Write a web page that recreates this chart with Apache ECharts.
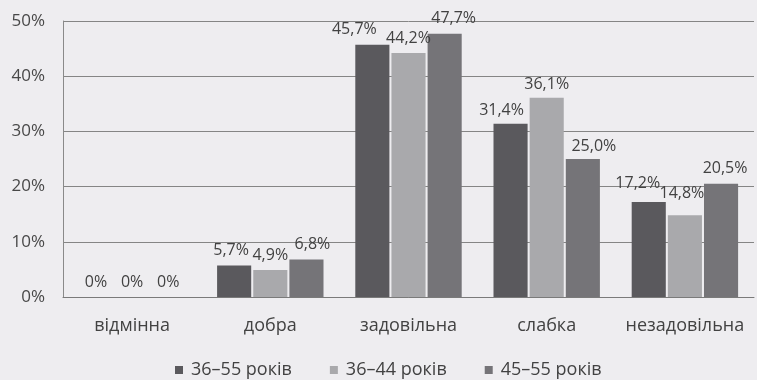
<!DOCTYPE html>
<html>
<head>
<meta charset="utf-8">
<script src="https://cdn.jsdelivr.net/npm/echarts@6/dist/echarts.min.js"></script>
<style>
  html, body { margin: 0; padding: 0; background: #eeedf0; }
  #chart { width: 757px; height: 380px; }
</style>
</head>
<body>
<div id="chart"></div>
<script>
// Оцінка: категорії та частки (%) за віковими групами
const categories = ['відмінна', 'добра', 'задовільна', 'слабка', 'незадовільна'];
const seriesNames = ['36–55 років', '36–44 років', '45–55 років'];
const group3655 = [0, 5.7, 45.7, 31.4, 17.2];
const group3644 = [0, 4.9, 44.2, 36.1, 14.8];
const group4555 = [0, 6.8, 47.7, 25.0, 20.5];
const yTicks = [0, 10, 20, 30, 40, 50];

const colors = ['#5a595d', '#a9a9ac', '#757478'];
const font = '"Open Sans", "Noto Sans", sans-serif';

// Neighbouring value labels are wider than the bars; spread them apart
// sideways so they do not collide ([series][category] → [dx, dy]).
const labelNudge = [
  [[0, 0], [-3, 0], [-18, 0], [-9, 2], [-11, -4]],
  [[0, 0], [0, 0], [0, 0], [0, 2], [-3, -7]],
  [[0, 0], [6, 0], [9, 0], [11, 2], [4, 0]]
];

function fmt(v) {
  return v === 0 ? '0%' : v.toFixed(1).replace('.', ',') + '%';
}

const values = [group3655, group3644, group4555];

const chart = echarts.init(document.getElementById('chart'));
chart.setOption({
  backgroundColor: '#eeedf0',
  animation: false,
  grid: { left: 63, right: 3, top: 21, bottom: 83 },
  legend: {
    top: 356,
    left: 170,
    icon: 'rect',
    itemWidth: 8,
    itemHeight: 8,
    itemGap: 38,
    textStyle: { fontFamily: font, fontSize: 18, color: '#424242', padding: [0, 0, 0, 3] },
    data: seriesNames
  },
  xAxis: {
    type: 'category',
    data: categories,
    axisTick: { show: false },
    axisLine: { lineStyle: { color: '#7a7a7a', width: 1 } },
    axisLabel: {
      interval: 0, hideOverlap: false,
      fontFamily: font, fontSize: 18, color: '#424242', margin: 20
    }
  },
  yAxis: {
    type: 'value',
    min: yTicks[0],
    max: yTicks[yTicks.length - 1],
    interval: 10,
    axisLine: { show: true, lineStyle: { color: '#8a8a8a', width: 1 } },
    axisTick: { show: false },
    splitLine: { lineStyle: { color: '#858585', width: 1 } },
    axisLabel: {
      fontFamily: font, fontSize: 17, color: '#484848', margin: 18,
      formatter: v => v + '%'
    }
  },
  series: seriesNames.map((name, i) => ({
    name,
    type: 'bar',
    data: values[i],
    barGap: '6%',
    barCategoryGap: '23%',
    itemStyle: { color: colors[i] },
    label: {
      show: true,
      position: 'top',
      distance: 7,
      fontFamily: font,
      fontSize: 16,
      color: '#424242',
      formatter: p => fmt(p.value)
    },
    labelLayout: p => {
      const n = labelNudge[i][p.dataIndex];
      return { dx: n[0], dy: n[1] };
    }
  }))
});
</script>
</body>
</html>
